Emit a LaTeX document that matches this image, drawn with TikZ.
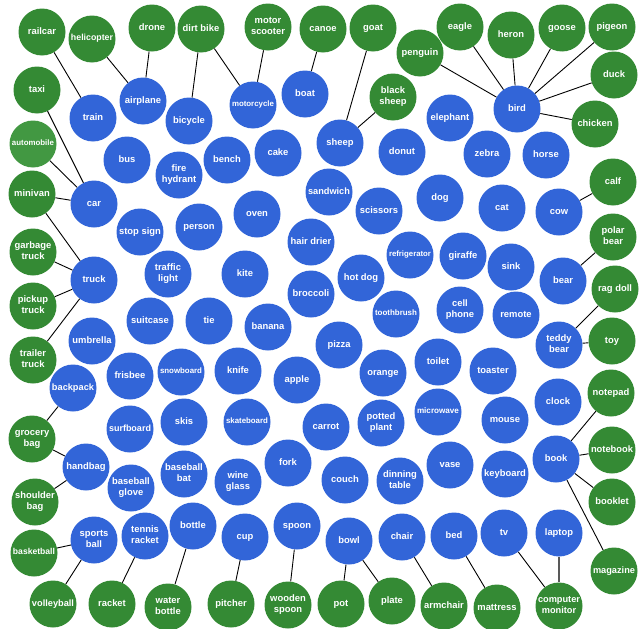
\documentclass[tikz,border=0pt]{standalone}
\usepackage{graphicx}
\usepackage{fontspec}
\usepackage{tikz}
\newfontfamily\lblfamily{Liberation Sans}
\definecolor{clsblue}{RGB}{50,101,216}
\definecolor{altgreen}{RGB}{52,138,52}
\definecolor{altlight}{RGB}{66,152,66}
% labels wider than the circle are shrunk to fit
\newsavebox\lblbox
\newcommand\fit[1]{\sbox\lblbox{\begin{tabular}{@{}c@{}}#1\end{tabular}}%
  \ifdim\wd\lblbox>42pt\resizebox{42pt}{!}{\usebox\lblbox}\else\usebox\lblbox\fi}

\begin{document}
\begin{tikzpicture}[
  x=1pt, y=-1pt,
  ball/.style={circle, minimum size=47pt, inner sep=0pt, text=white,
    font=\lblfamily\bfseries\fontsize{9.4}{10.5}\selectfont},
  cls/.style={ball, fill=clsblue},
  alt/.style={ball, fill=altgreen},
  link/.style={black, line width=0.9pt},
  dlink/.style={gray!70!black, line width=2pt}
]
\useasboundingbox (0,0) rectangle (640,629);

% COCO classes
\node[cls] (train) at (93,118) {\fit{train}};
\node[cls] (airplane) at (143,101) {\fit{airplane}};
\node[cls] (bicycle) at (189,121) {\fit{bicycle}};
\node[cls] (motorcycle) at (253,105) {\fit{motorcycle}};
\node[cls] (boat) at (305,94) {\fit{boat}};
\node[cls] (sheep) at (340,143) {\fit{sheep}};
\node[cls] (elephant) at (450,118) {\fit{elephant}};
\node[cls] (bird) at (517,109) {\fit{bird}};
\node[cls] (bus) at (127,160) {\fit{bus}};
\node[cls] (firehydrant) at (179,175) {\fit{fire\\hydrant}};
\node[cls] (bench) at (227,160) {\fit{bench}};
\node[cls] (cake) at (278,153) {\fit{cake}};
\node[cls] (donut) at (402,152) {\fit{donut}};
\node[cls] (zebra) at (487,154) {\fit{zebra}};
\node[cls] (horse) at (546,155) {\fit{horse}};
\node[cls] (car) at (94,204) {\fit{car}};
\node[cls] (stopsign) at (140,232) {\fit{stop sign}};
\node[cls] (person) at (199,227) {\fit{person}};
\node[cls] (oven) at (257,214) {\fit{oven}};
\node[cls] (sandwich) at (329,192) {\fit{sandwich}};
\node[cls] (scissors) at (379,211) {\fit{scissors}};
\node[cls] (dog) at (440,198) {\fit{dog}};
\node[cls] (cat) at (502,208) {\fit{cat}};
\node[cls] (cow) at (559,212) {\fit{cow}};
\node[cls] (hairdrier) at (311,242) {\fit{hair drier}};
\node[cls] (refrigerator) at (410,255) {\fit{refrigerator}};
\node[cls] (giraffe) at (463,256) {\fit{giraffe}};
\node[cls] (sink) at (511,267) {\fit{sink}};
\node[cls] (bear) at (563,281) {\fit{bear}};
\node[cls] (truck) at (94,280) {\fit{truck}};
\node[cls] (trafficlight) at (168,274) {\fit{traffic\\light}};
\node[cls] (kite) at (245,274) {\fit{kite}};
\node[cls] (hotdog) at (361,278) {\fit{hot dog}};
\node[cls] (broccoli) at (311,294) {\fit{broccoli}};
\node[cls] (cellphone) at (460,310) {\fit{cell\\phone}};
\node[cls] (remote) at (516,315) {\fit{remote}};
\node[cls] (suitcase) at (150,321) {\fit{suitcase}};
\node[cls] (tie) at (209,321) {\fit{tie}};
\node[cls] (banana) at (268,327) {\fit{banana}};
\node[cls] (toothbrush) at (396,314) {\fit{toothbrush}};
\node[cls] (pizza) at (339,345) {\fit{pizza}};
\node[cls] (teddybear) at (559,345) {\fit{teddy\\bear}};
\node[cls] (umbrella) at (92,341) {\fit{umbrella}};
\node[cls] (toilet) at (438,362) {\fit{toilet}};
\node[cls] (toaster) at (493,371) {\fit{toaster}};
\node[cls] (backpack) at (73,388) {\fit{backpack}};
\node[cls] (frisbee) at (130,376) {\fit{frisbee}};
\node[cls] (snowboard) at (181,372) {\fit{snowboard}};
\node[cls] (knife) at (238,371) {\fit{knife}};
\node[cls] (apple) at (297,380) {\fit{apple}};
\node[cls] (orange) at (383,373) {\fit{orange}};
\node[cls] (clock) at (558,402) {\fit{clock}};
\node[cls] (microwave) at (438,412) {\fit{microwave}};
\node[cls] (mouse) at (505,420) {\fit{mouse}};
\node[cls] (surfboard) at (130,429) {\fit{surfboard}};
\node[cls] (skis) at (184,422) {\fit{skis}};
\node[cls] (skateboard) at (247,422) {\fit{skateboard}};
\node[cls] (carrot) at (326,427) {\fit{carrot}};
\node[cls] (pottedplant) at (381,423) {\fit{potted\\plant}};
\node[cls] (handbag) at (86,467) {\fit{handbag}};
\node[cls] (baseballglove) at (131,488) {\fit{baseball\\glove}};
\node[cls] (baseballbat) at (184,474) {\fit{baseball\\bat}};
\node[cls] (fork) at (288,463) {\fit{fork}};
\node[cls] (wineglass) at (238,482) {\fit{wine\\glass}};
\node[cls] (couch) at (345,480) {\fit{couch}};
\node[cls] (dinningtable) at (400,481) {\fit{dinning\\table}};
\node[cls] (vase) at (450,465) {\fit{vase}};
\node[cls] (keyboard) at (505,474) {\fit{keyboard}};
\node[cls] (book) at (556,459) {\fit{book}};
\node[cls] (sportsball) at (94,540) {\fit{sports\\ball}};
\node[cls] (tennisracket) at (145,536) {\fit{tennis\\racket}};
\node[cls] (bottle) at (193,526) {\fit{bottle}};
\node[cls] (cup) at (245,537) {\fit{cup}};
\node[cls] (spoon) at (297,526) {\fit{spoon}};
\node[cls] (bowl) at (349,541) {\fit{bowl}};
\node[cls] (chair) at (402,537) {\fit{chair}};
\node[cls] (bed) at (454,536) {\fit{bed}};
\node[cls] (tv) at (504,533) {\fit{tv}};
\node[cls] (laptop) at (559,533) {\fit{laptop}};

% related words
\node[alt] (railcar) at (42,32) {\fit{railcar}};
\node[alt] (helicopter) at (92,39) {\fit{helicopter}};
\node[alt] (drone) at (152,28) {\fit{drone}};
\node[alt] (dirtbike) at (201,29) {\fit{dirt bike}};
\node[alt] (motorscooter) at (268,27) {\fit{motor\\scooter}};
\node[alt] (canoe) at (323,29) {\fit{canoe}};
\node[alt] (goat) at (373,28) {\fit{goat}};
\node[alt] (penguin) at (420,53) {\fit{penguin}};
\node[alt] (eagle) at (460,27) {\fit{eagle}};
\node[alt] (heron) at (511,35) {\fit{heron}};
\node[alt] (goose) at (562,28) {\fit{goose}};
\node[alt] (pigeon) at (612,27) {\fit{pigeon}};
\node[alt] (duck) at (614,75) {\fit{duck}};
\node[alt] (chicken) at (595,124) {\fit{chicken}};
\node[alt] (taxi) at (37,90) {\fit{taxi}};
\node[alt, fill=altlight] (automobile) at (33,144) {\fit{automobile}};
\node[alt] (blacksheep) at (393,97) {\fit{black\\sheep}};
\node[alt] (minivan) at (32,194) {\fit{minivan}};
\node[alt] (calf) at (613,182) {\fit{calf}};
\node[alt] (garbagetruck) at (33,252) {\fit{garbage\\truck}};
\node[alt] (polarbear) at (613,237) {\fit{polar\\bear}};
\node[alt] (pickuptruck) at (33,306) {\fit{pickup\\truck}};
\node[alt] (ragdoll) at (615,289) {\fit{rag doll}};
\node[alt] (trailertruck) at (33,360) {\fit{trailer\\truck}};
\node[alt] (toy) at (612,341) {\fit{toy}};
\node[alt] (notepad) at (611,393) {\fit{notepad}};
\node[alt] (grocerybag) at (32,439) {\fit{grocery\\bag}};
\node[alt] (notebook) at (612,450) {\fit{notebook}};
\node[alt] (shoulderbag) at (35,502) {\fit{shoulder\\bag}};
\node[alt] (booklet) at (612,502) {\fit{booklet}};
\node[alt] (basketball) at (34,553) {\fit{basketball}};
\node[alt] (magazine) at (614,571) {\fit{magazine}};
\node[alt] (volleyball) at (53,604) {\fit{volleyball}};
\node[alt] (racket) at (112,604) {\fit{racket}};
\node[alt] (waterbottle) at (168,607) {\fit{water\\bottle}};
\node[alt] (pitcher) at (231,604) {\fit{pitcher}};
\node[alt] (woodenspoon) at (288,605) {\fit{wooden\\spoon}};
\node[alt] (pot) at (341,604) {\fit{pot}};
\node[alt] (plate) at (392,601) {\fit{plate}};
\node[alt] (armchair) at (444,606) {\fit{armchair}};
\node[alt] (mattress) at (497,608) {\fit{mattress}};
\node[alt] (computermonitor) at (559,606) {\fit{computer\\monitor}};

% links
\draw[link] (railcar) -- (train);
\draw[link] (helicopter) -- (airplane);
\draw[link] (drone) -- (airplane);
\draw[link] (dirtbike) -- (bicycle);
\draw[link] (dirtbike) -- (motorcycle);
\draw[link] (motorscooter) -- (motorcycle);
\draw[link] (canoe) -- (boat);
\draw[link] (goat) -- (sheep);
\draw[link] (blacksheep) -- (sheep);
\draw[link] (penguin) -- (bird);
\draw[link] (eagle) -- (bird);
\draw[link] (heron) -- (bird);
\draw[link] (goose) -- (bird);
\draw[link] (pigeon) -- (bird);
\draw[link] (duck) -- (bird);
\draw[link] (chicken) -- (bird);
\draw[link] (taxi) -- (car);
\draw[link] (automobile) -- (car);
\draw[link] (minivan) -- (car);
\draw[link] (minivan) -- (truck);
\draw[link] (calf) -- (cow);
\draw[link] (garbagetruck) -- (truck);
\draw[link] (pickuptruck) -- (truck);
\draw[link] (trailertruck) -- (truck);
\draw[link] (polarbear) -- (bear);
\draw[link] (ragdoll) -- (teddybear);
\draw[link] (toy) -- (teddybear);
\draw[link] (notepad) -- (book);
\draw[link] (notebook) -- (book);
\draw[link] (booklet) -- (book);
\draw[link] (magazine) -- (book);
\draw[link] (grocerybag) -- (backpack);
\draw[link] (grocerybag) -- (handbag);
\draw[link] (shoulderbag) -- (handbag);
\draw[link] (basketball) -- (sportsball);
\draw[link] (volleyball) -- (sportsball);
\draw[link] (racket) -- (tennisracket);
\draw[link] (waterbottle) -- (bottle);
\draw[link] (pitcher) -- (cup);
\draw[link] (woodenspoon) -- (spoon);
\draw[link] (pot) -- (bowl);
\draw[link] (plate) -- (bowl);
\draw[link] (armchair) -- (chair);
\draw[link] (mattress) -- (bed);
\draw[link] (computermonitor) -- (tv);
\draw[dlink] (computermonitor) -- (laptop);
\end{tikzpicture}
\end{document}
